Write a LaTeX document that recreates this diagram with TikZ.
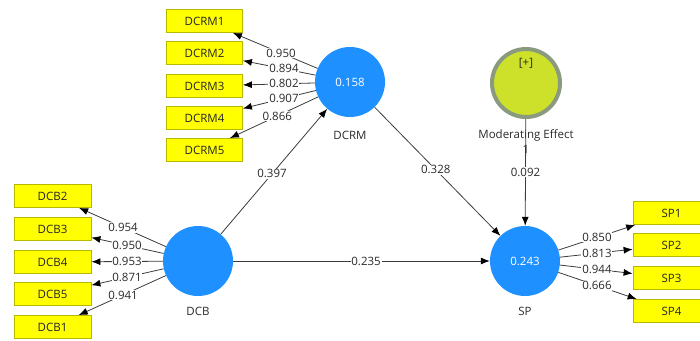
\documentclass[tikz,border=0pt]{standalone}
\usepackage{fontspec}
\setmainfont{Open Sans}
\usetikzlibrary{arrows.meta,calc}
\definecolor{lvblue}{HTML}{1E90FF}
\definecolor{boxyel}{HTML}{FFFF00}
\definecolor{boxedge}{HTML}{B8B800}
\definecolor{modfill}{HTML}{CDE12B}
\definecolor{modring}{HTML}{8A9A7E}
\definecolor{linegray}{HTML}{3C3C3C}
\definecolor{txtgray}{HTML}{2A2A2A}
\begin{document}
\begin{tikzpicture}[x=1pt,y=-1pt,
  font=\fontsize{11.5}{13}\selectfont,
  latent/.style={circle,fill=lvblue,minimum size=70pt,inner sep=0pt,text=white},
  modvar/.style={circle,fill=modfill,draw=modring,line width=4pt,minimum size=68pt,inner sep=0pt},
  indic/.style={rectangle,fill=boxyel,draw=boxedge,line width=0.8pt,minimum width=76pt,minimum height=23pt,inner sep=0pt,text=black!85},
  conn/.style={draw=linegray,line width=0.8pt,-{Latex[length=9pt,width=7pt,color=black]}},
  coef/.style={fill=white,inner sep=0.8pt,text=txtgray},
  vname/.style={text=txtgray,inner sep=0pt}]
\useasboundingbox (0,0) rectangle (700,340);
% latent variables
\node[latent] (dcrm) at (350,82) {0.158};
\node[latent] (dcb) at (198,261) {};
\node[latent] (sp) at (525,261) {0.243};
\node[modvar] (mod) at (526,83) {};
\node[vname] (modplus) at (526,63) {[+]};
\node[vname] (dcrmname) at (350,135) {DCRM};
\node[vname] (dcbname) at (198,311) {DCB};
\node[vname] (spname) at (525,311) {SP};
\node[vname] (modname) at (526,135) {Moderating Effect};
% indicators
\node[indic] (dcrm1) at (204.5,21) {DCRM1};
\node[indic] (dcrm2) at (204.5,53) {DCRM2};
\node[indic] (dcrm3) at (204.5,86) {DCRM3};
\node[indic] (dcrm4) at (204.5,118) {DCRM4};
\node[indic] (dcrm5) at (204.5,150) {DCRM5};
\node[indic,minimum width=77pt] (dcb2) at (52.5,196) {DCB2};
\node[indic,minimum width=77pt] (dcb3) at (52.5,229) {DCB3};
\node[indic,minimum width=77pt] (dcb4) at (52.5,262) {DCB4};
\node[indic,minimum width=77pt] (dcb5) at (52.5,294) {DCB5};
\node[indic,minimum width=77pt] (dcb1) at (52.5,327) {DCB1};
\node[indic,minimum width=77pt] (sp1) at (671.5,213) {SP1};
\node[indic,minimum width=77pt] (sp2) at (671.5,245) {SP2};
\node[indic,minimum width=77pt] (sp3) at (671.5,278) {SP3};
\node[indic,minimum width=77pt] (sp4) at (671.5,311) {SP4};
% connectors
\foreach \b in {dcrm1,dcrm2,dcrm3,dcrm4,dcrm5} \draw[conn] (dcrm) -- (\b);
\foreach \b in {dcb1,dcb2,dcb3,dcb4,dcb5} \draw[conn] (dcb) -- (\b);
\foreach \b in {sp1,sp2,sp3,sp4} \draw[conn] (sp) -- (\b);
\draw[conn] (dcb) -- (dcrm);
\draw[conn] (dcrm) -- (sp);
\draw[conn] (dcb) -- (sp);
\draw[conn] (mod) -- (sp);
\node[vname] (modone) at (526,149) {1};
% coefficients
\node[coef] (c1) at ($(dcrm)!0.474!(dcrm1)$) {0.950};
\node[coef] (c2) at ($(dcrm)!0.454!(dcrm2)$) {0.894};
\node[coef] (c3) at ($(dcrm)!0.454!(dcrm3)$) {0.802};
\node[coef] (c4) at ($(dcrm)!0.454!(dcrm4)$) {0.907};
\node[coef] (c5) at ($(dcrm)!0.50!(dcrm5)$) {0.866};
\node[coef] (d2) at ($(dcb)!0.515!(dcb2)$) {0.954};
\node[coef] (d3) at ($(dcb)!0.488!(dcb3)$) {0.950};
\node[coef] (d4) at ($(dcb)!0.488!(dcb4)$) {0.953};
\node[coef] (d5) at ($(dcb)!0.488!(dcb5)$) {0.871};
\node[coef] (d1) at ($(dcb)!0.515!(dcb1)$) {0.941};
\node[coef] (s1) at ($(sp)!0.491!(sp1)$) {0.850};
\node[coef] (s2) at ($(sp)!0.491!(sp2)$) {0.813};
\node[coef] (s3) at ($(sp)!0.491!(sp3)$) {0.944};
\node[coef] (s4) at ($(sp)!0.491!(sp4)$) {0.666};
\node[coef] (p1) at ($(dcb)!0.487!(dcrm)$) {0.397};
\node[coef] (p2) at ($(dcrm)!0.49!(sp)$) {0.328};
\node[coef] (p3) at ($(dcb)!0.514!(sp)$) {0.235};
\node[coef] (p4) at ($(mod)!0.5!(sp)$) {0.092};
\end{tikzpicture}
\end{document}
